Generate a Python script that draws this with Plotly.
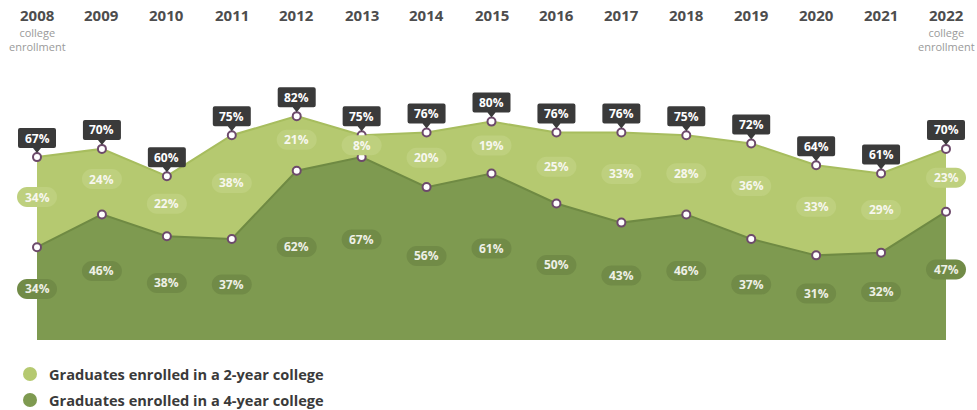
import plotly.graph_objects as go

years = [2008, 2009, 2010, 2011, 2012, 2013, 2014, 2015, 2016, 2017, 2018, 2019, 2020, 2021, 2022]
total_pct = [67, 70, 60, 75, 82, 75, 76, 80, 76, 76, 75, 72, 64, 61, 70]
four_year = [34, 46, 38, 37, 62, 67, 56, 61, 50, 43, 46, 37, 31, 32, 47]
two_year = [34, 24, 22, 38, 21, 8, 20, 19, 25, 33, 28, 36, 33, 29, 23]
series_names = ["Graduates enrolled in a 2-year college", "Graduates enrolled in a 4-year college"]
edge_label = "college<br>enrollment"

W, H = 977, 410
ML, MR, MT, MB = 12, 7, 67, 70
PH = H - MT - MB
PW = W - ML - MR
# pixel targets of first/last year, used to set axis padding so edge labels are not clipped
X_FIRST, X_LAST = 37, 946
STEP = (X_LAST - X_FIRST) / (len(years) - 1)
x_lo = years[0] - (X_FIRST - ML) / STEP
x_hi = years[-1] + ((W - MR) - X_LAST) / STEP

C_LIGHT = "#b5c970"
C_LIGHT_EDGE = "#a7bd5e"
C_LIGHT_PILL = "#bed07e"
C_DARK = "#7e9a50"
C_DARK_EDGE = "#6f8a43"
C_DARK_PILL = "#718b47"
C_BOX = "#3a3a3a"
C_MARK = "#6d4a6b"
FONT = "Open Sans"

fig = go.Figure()

fig.add_trace(go.Scatter(x=years, y=four_year, mode="lines", fill="tozeroy",
                         fillcolor=C_DARK, line=dict(color=C_DARK_EDGE, width=2),
                         name=series_names[1], showlegend=False, hoverinfo="skip"))
fig.add_trace(go.Scatter(x=years, y=total_pct, mode="lines", fill="tonexty",
                         fillcolor=C_LIGHT, line=dict(color=C_LIGHT_EDGE, width=2),
                         name=series_names[0], showlegend=False, hoverinfo="skip"))
for ys in (four_year, total_pct):
    fig.add_trace(go.Scatter(x=years, y=ys, mode="markers",
                             marker=dict(size=8, color="white", line=dict(color=C_MARK, width=2)),
                             showlegend=False, hoverinfo="skip", cliponaxis=False))


def pill_path(w=40, h=20):
    r = h / 2
    a = w / 2 - r
    k = 0.5523 * r
    return (f"M {-a},{-r} L {a},{-r} C {a + k},{-r} {a + r},{-k} {a + r},0 "
            f"C {a + r},{k} {a + k},{r} {a},{r} L {-a},{r} "
            f"C {-a - k},{r} {-a - r},{k} {-a - r},0 C {-a - r},{-k} {-a - k},{-r} {-a},{-r} Z")


def box_path(w=38, b=9, t=29, tip=4, pw=4, r=2):
    a = w / 2
    return (f"M {-pw},{b} L 0,{tip} L {pw},{b} L {a - r},{b} Q {a},{b} {a},{b + r} "
            f"L {a},{t - r} Q {a},{t} {a - r},{t} L {-a + r},{t} Q {-a},{t} {-a},{t - r} "
            f"L {-a},{b + r} Q {-a},{b} {-a + r},{b} Z")


PILL = pill_path()
BOX = box_path()
shapes = []
annotations = []


def anchored(xv, yv, path, color):
    return dict(type="path", xref="x", yref="y", xsizemode="pixel", ysizemode="pixel",
                xanchor=xv, yanchor=yv, path=path, fillcolor=color, line=dict(width=0),
                layer="above")


for yr, tot, f4, f2 in zip(years, total_pct, four_year, two_year):
    shapes.append(anchored(yr, tot, BOX, C_BOX))
    annotations.append(dict(x=yr, y=tot, text=f"<b>{tot}%</b>", showarrow=False, yshift=19,
                            yanchor="middle", font=dict(family=FONT, size=12, color="white")))
    y2 = f4 + 0.54 * f2
    shapes.append(anchored(yr, y2, PILL, C_LIGHT_PILL))
    annotations.append(dict(x=yr, y=y2, text=f"<b>{f2}%</b>", showarrow=False, yanchor="middle",
                            font=dict(family=FONT, size=12, color="#f7f7ee")))
    y4 = 0.55 * f4
    shapes.append(anchored(yr, y4, PILL, C_DARK_PILL))
    annotations.append(dict(x=yr, y=y4, text=f"<b>{f4}%</b>", showarrow=False, yanchor="middle",
                            font=dict(family=FONT, size=12, color="#eef0e6")))


def py(p):
    return (MT + PH - p) / PH


def px(p):
    return (p - ML) / PW


for i, yr in enumerate(years):
    annotations.append(dict(x=yr, y=py(15), xref="x", yref="paper", text=f"<b>{yr}</b>",
                            showarrow=False, yanchor="middle",
                            font=dict(family=FONT, size=15, color="#4d4d4d")))
    if i == 0 or i == len(years) - 1:
        annotations.append(dict(x=yr, y=py(40), xref="x", yref="paper", text=edge_label,
                                showarrow=False, yanchor="middle",
                                font=dict(family=FONT, size=11, color="#9a9a9a")))

leg_colors = [C_LIGHT, C_DARK]
leg_y = [374, 400]
for name, col, yy in zip(series_names, leg_colors, leg_y):
    shapes.append(dict(type="circle", xref="paper", yref="paper", xsizemode="pixel", ysizemode="pixel",
                       xanchor=px(30), yanchor=py(yy), x0=-7, x1=7, y0=-7, y1=7,
                       fillcolor=col, line=dict(width=0)))
    annotations.append(dict(x=px(47), y=py(yy), xref="paper", yref="paper",
                            text=f"<b>{name}</b>", showarrow=False, xanchor="left", yanchor="middle",
                            font=dict(family=FONT, size=14.6, color="#3a3a3a")))

fig.update_layout(
    width=W, height=H,
    margin=dict(l=ML, r=MR, t=MT, b=MB, pad=0),
    paper_bgcolor="white", plot_bgcolor="white",
    xaxis=dict(range=[x_lo, x_hi], visible=False, fixedrange=True),
    yaxis=dict(range=[0, 100], visible=False, fixedrange=True),
    shapes=shapes, annotations=annotations,
    showlegend=False,
    font=dict(family=FONT),
)

fig.write_html("out.html", config={"displayModeBar": False},
               post_script="document.body.style.margin='0';")
